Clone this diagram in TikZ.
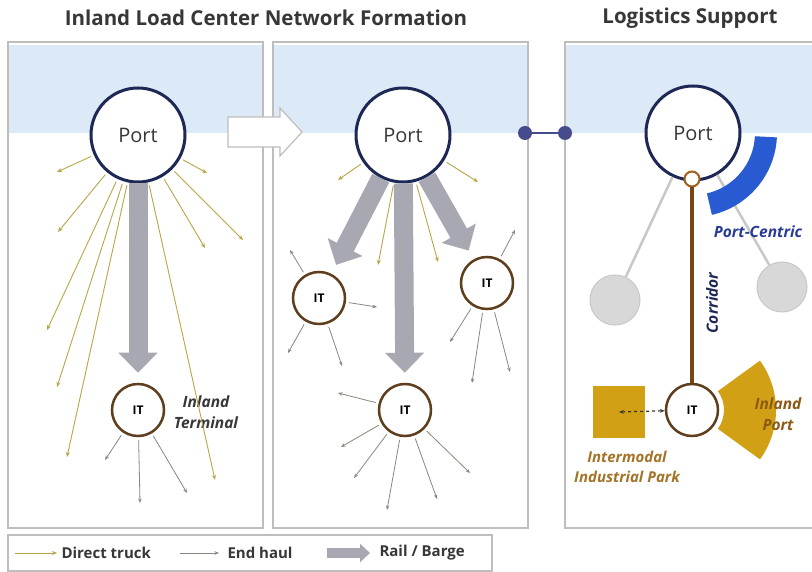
\documentclass[tikz,border=0pt]{standalone}
\usepackage{fontspec}
\setmainfont{Open Sans}
\usetikzlibrary{arrows.meta,positioning}
\definecolor{panelgrey}{RGB}{190,190,190}
\definecolor{bandblue}{RGB}{220,234,248}
\definecolor{portnavy}{RGB}{30,40,85}
\definecolor{itbrown}{RGB}{95,62,30}
\definecolor{truckolive}{RGB}{185,165,70}
\definecolor{haulgrey}{RGB}{135,135,125}
\definecolor{railgrey}{RGB}{168,168,178}
\definecolor{titlegrey}{RGB}{55,55,55}
\definecolor{corridorbrown}{RGB}{120,70,20}
\definecolor{centricblue}{RGB}{40,90,210}
\definecolor{centrictext}{RGB}{40,60,150}
\definecolor{parkgold}{RGB}{210,160,20}
\definecolor{parktext}{RGB}{165,115,40}
\definecolor{porttext}{RGB}{140,90,20}
\definecolor{ghostfill}{RGB}{216,216,216}
\definecolor{ghostdraw}{RGB}{200,200,200}
\definecolor{knobblue}{RGB}{70,75,140}
\definecolor{junction}{RGB}{160,95,30}
\begin{document}
\begin{tikzpicture}[
    x=1pt, y=-1pt,
    panel/.style={draw=panelgrey, line width=1.2pt, fill=white},
    band/.style={fill=bandblue, draw=none},
    port/.style={circle, draw=portnavy, line width=3pt, fill=white, minimum size=94pt, inner sep=0pt, font=\fontsize{20}{20}\selectfont, text=titlegrey},
    term/.style={circle, draw=itbrown, line width=2.5pt, fill=white, minimum size=52pt, inner sep=0pt, font=\bfseries\fontsize{12}{12}\selectfont},
    truck/.style={draw=truckolive, line width=0.9pt, -{Stealth[length=5pt,width=4pt]}, shorten <=3pt},
    haul/.style={draw=haulgrey, line width=0.8pt, -{Stealth[length=4.5pt,width=3.5pt]}, shorten <=3pt},
    rail/.style={draw=railgrey, line width=19pt, -{Triangle[length=20pt,width=38pt]}, shorten >=10pt},
    title/.style={font=\bfseries\fontsize{20.5}{20.5}\selectfont, text=titlegrey},
    tag/.style={font=\bfseries\itshape\fontsize{15.5}{21}\selectfont, align=center},
    ghost/.style={circle, fill=ghostfill, draw=ghostdraw, line width=1pt, minimum size=50pt},
    knob/.style={circle, fill=knobblue, minimum size=14pt, inner sep=0pt},
    legend/.style={font=\bfseries\fontsize{15}{15}\selectfont, anchor=west, text=titlegrey}
]
\useasboundingbox (0,0) rectangle (812,572);
\clip (0,0) rectangle (812,572);
\fill[white] (0,0) rectangle (812,572);

\draw[panel] (8,42) rectangle (263,528);
\draw[panel] (273,42) rectangle (528,528);
\draw[panel] (565,42) rectangle (830,528);
\fill[band] (9,45) rectangle (262,133);
\fill[band] (274,45) rectangle (527,133);
\fill[band] (566,45) rectangle (829,133);

\node[title] (t1) at (266,18) {Inland Load Center Network Formation};
\node[title] (t3) at (690,18) {Logistics Support};

\draw[panelgrey, fill=white, line width=1.2pt] (228,117) -- (280,117) -- (280,108) -- (302,132) -- (280,156) -- (280,147) -- (228,147) -- cycle;

\node[knob] (knobL) at (525,133) {};
\node[knob] (knobR) at (565,133) {};
\draw[knobblue, line width=2.5pt] (knobL) -- (knobR);

% panel 1
\node[port] (portA) at (138,135) {Port};
\node[term] (itA) at (138,410) {IT};
\node[tag, text=titlegrey] (itAlabel) at (206,412) {Inland\\Terminal};
\draw[rail] (portA) -- (itA);
\foreach \x/\y [count=\i] in {57/172,58/232,47/330,57/387,67/457,207/173,243/240,205/248,215/480}{
    \coordinate (ta\i) at (\x,\y);
    \draw[truck] (portA) -- (ta\i);
}
\foreach \x/\y [count=\i] in {105/460,140/503,187/493}{
    \coordinate (ha\i) at (\x,\y);
    \draw[haul] (itA) -- (ha\i);
}

% panel 2
\node[port] (portB) at (403,135) {Port};
\node[term] (itB1) at (319,298) {IT};
\node[term] (itB2) at (487,283) {IT};
\node[term] (itB3) at (405,410) {IT};
\draw[rail] (portB) -- (itB1);
\draw[rail] (portB) -- (itB2);
\draw[rail] (portB) -- (itB3);
\foreach \x/\y [count=\i] in {338/180,478/182,378/265,438/262}{
    \coordinate (tb\i) at (\x,\y);
    \draw[truck] (portB) -- (tb\i);
}
\foreach \x/\y [count=\i] in {290/250,377/307,288/353,342/366}{
    \coordinate (hb\i) at (\x,\y);
    \draw[haul] (itB1) -- (hb\i);
}
\foreach \x/\y [count=\i] in {515/230,450/342,472/383,510/372}{
    \coordinate (hc\i) at (\x,\y);
    \draw[haul] (itB2) -- (hc\i);
}
\foreach \x/\y [count=\i] in {338/393,341/447,354/478,387/510,437/499,470/473}{
    \coordinate (hd\i) at (\x,\y);
    \draw[haul] (itB3) -- (hd\i);
}

% panel 3
\node[ghost] (ghostL) at (615,300) {};
\node[ghost] (ghostR) at (782,287) {};
\node[port] (portC) at (693,133) {Port};
\draw[ghostdraw, line width=2.5pt] (portC) -- (ghostL);
\draw[ghostdraw, line width=2.5pt] (portC) -- (ghostR);
\fill[centricblue] ([shift={(693,133)}]3:62) -- ([shift={(693,133)}]3:84)
    arc[start angle=3, end angle=77, radius=84] -- ([shift={(693,133)}]77:62)
    arc[start angle=77, end angle=3, radius=62] -- cycle;
\node[tag, text=centrictext] (centric) at (758,232) {Port-Centric};
\node[circle, draw=junction, line width=2pt, fill=white, minimum size=15pt, inner sep=0pt] (join) at (692,179) {};
\node[term] (itC) at (692,410) {IT};
\draw[corridorbrown, line width=4pt] (join) -- (itC);
\node[tag, text=portnavy, rotate=90] (corr) at (712,303) {Corridor};
\fill[parkgold] ([shift={(692,410)}]-36:32) -- ([shift={(692,410)}]-36:84)
    arc[start angle=-36, end angle=36, radius=84] -- ([shift={(692,410)}]36:32)
    arc[start angle=36, end angle=-36, radius=32] -- cycle;
\node[tag, text=porttext] (inport) at (778,414) {Inland\\Port};
\node[rectangle, fill=parkgold, minimum size=52pt] (park) at (619,412) {};
\draw[{Stealth[length=5pt]}-{Stealth[length=5pt]}, dashed, line width=1.2pt, draw=titlegrey] (park.center) -- (itC);
\node[tag, text=parktext, font=\bfseries\itshape\fontsize{15}{20}\selectfont] (parklabel) at (627,467) {Intermodal\\Industrial Park};

% legend
\draw[panel] (8,535) rectangle (492,571);
\coordinate (la) at (15,553);
\coordinate (lb) at (57,553);
\draw[truck, shorten <=0pt] (la) -- (lb);
\node[legend] (ltruck) at (58,553) {Direct truck};
\coordinate (lc) at (180,553);
\coordinate (ld) at (219,553);
\draw[haul, shorten <=0pt] (lc) -- (ld);
\node[legend] (lhaul) at (224,553) {End haul};
\coordinate (le) at (327,553);
\coordinate (lf) at (370,553);
\draw[railgrey, line width=10pt, -{Triangle[length=10pt,width=18pt]}] (le) -- (lf);
\node[legend] (lrail) at (376,553) {Rail / Barge};
\end{tikzpicture}
\end{document}
